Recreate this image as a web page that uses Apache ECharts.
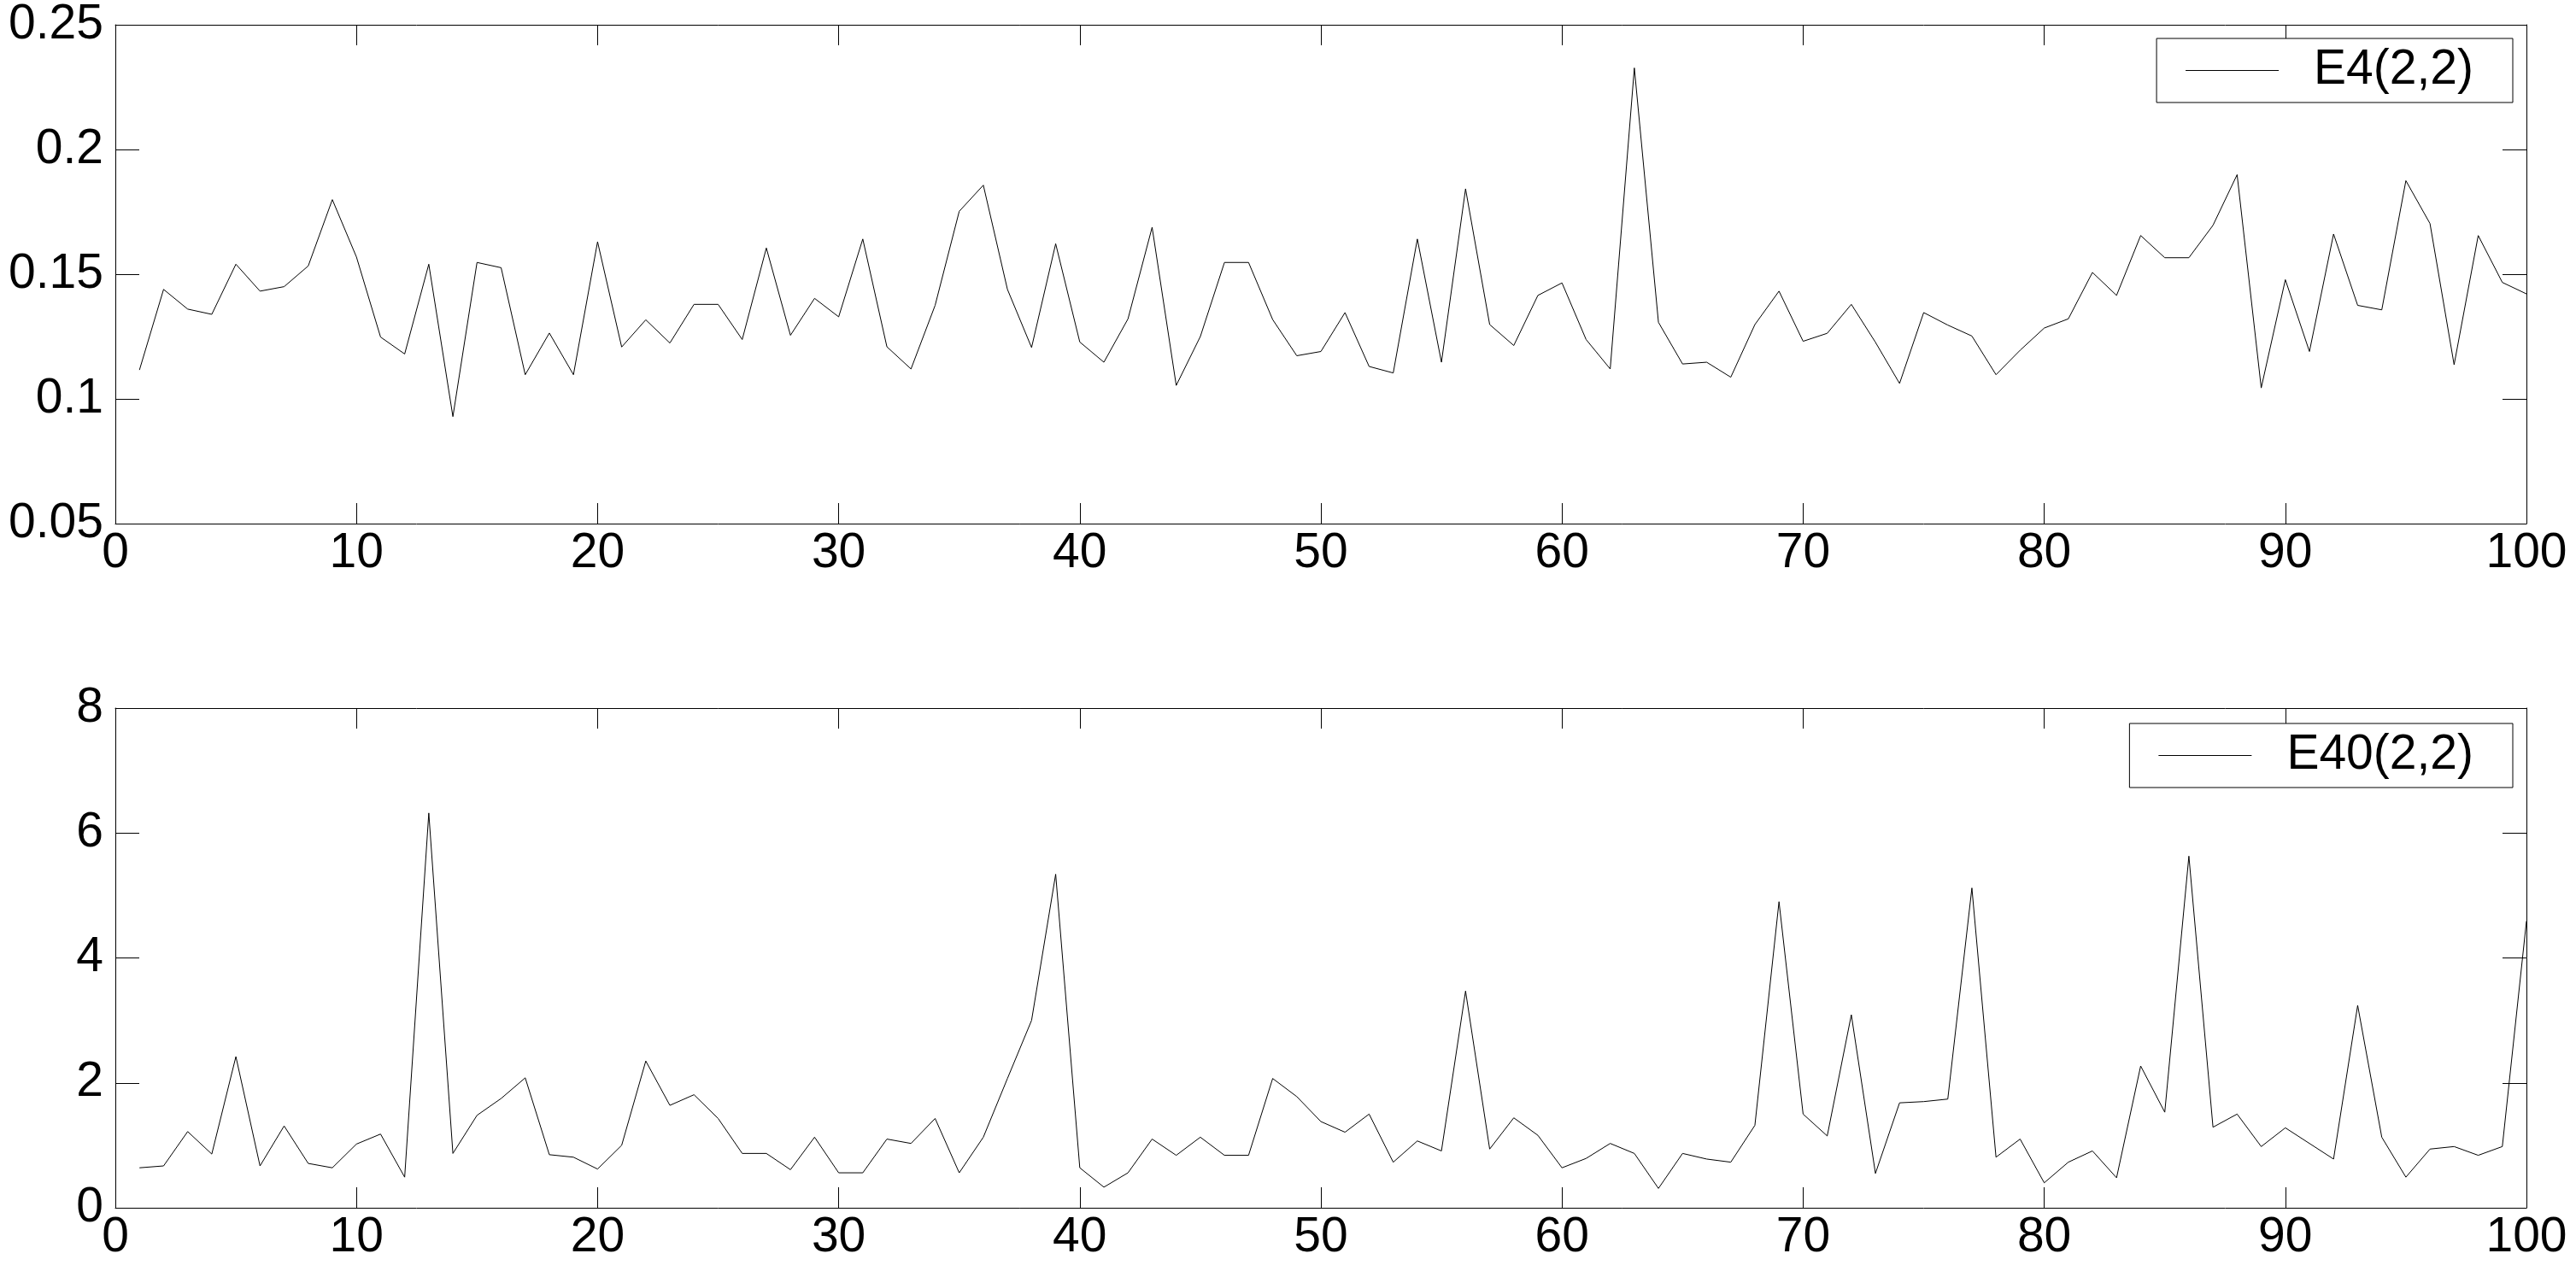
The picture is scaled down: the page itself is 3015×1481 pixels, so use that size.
<!DOCTYPE html>
<html>
<head>
<meta charset="utf-8">
<script src="https://cdn.jsdelivr.net/npm/echarts@6/dist/echarts.min.js"></script>
<style>
html,body{margin:0;padding:0;background:#fff;}
#chart{width:3015px;height:1481px;}
</style>
</head>
<body>
<div id="chart"></div>
<script>
// ---- data ----
const seriesNames = ['E4(2,2)', 'E40(2,2)'];
const xTicks = [0, 10, 20, 30, 40, 50, 60, 70, 80, 90, 100];
const e4Values = [
  0.1116,0.1439,0.1360,0.1339,0.1540,0.1432,0.1450,0.1533,0.1799,0.1569,
  0.1248,0.1180,0.1540,0.0929,0.1547,0.1526,0.1097,0.1264,0.1097,0.1630,
  0.1208,0.1317,0.1224,0.1379,0.1379,0.1238,0.1605,0.1255,0.1403,0.1329,
  0.1641,0.1209,0.1120,0.1375,0.1752,0.1857,0.1439,0.1206,0.1622,0.1228,
  0.1147,0.1321,0.1688,0.1054,0.1250,0.1547,0.1547,0.1318,0.1173,0.1190,
  0.1346,0.1130,0.1104,0.1641,0.1147,0.1842,0.1298,0.1214,0.1415,0.1465,
  0.1238,0.1120,0.2327,0.1307,0.1140,0.1147,0.1087,0.1298,0.1432,0.1231,
  0.1263,0.1379,0.1227,0.1062,0.1346,0.1296,0.1252,0.1097,0.1195,0.1284,
  0.1321,0.1507,0.1415,0.1655,0.1566,0.1566,0.1696,0.1899,0.1044,0.1478,
  0.1190,0.1661,0.1375,0.1357,0.1875,0.1703,0.1137,0.1655,0.1467,0.1421
];
const e40Values = [
  0.64,0.67,1.22,0.86,2.42,0.67,1.31,0.71,0.64,1.02,
  1.18,0.49,6.32,0.87,1.48,1.75,2.08,0.85,0.81,0.62,
  1.00,2.35,1.64,1.81,1.43,0.87,0.87,0.61,1.13,0.56,
  0.56,1.10,1.03,1.43,0.56,1.13,2.07,3.00,5.34,0.64,
  0.33,0.56,1.10,0.84,1.13,0.84,0.84,2.07,1.78,1.38,
  1.21,1.50,0.73,1.07,0.91,3.47,0.94,1.44,1.16,0.64,
  0.79,1.03,0.87,0.31,0.87,0.78,0.73,1.32,4.90,1.50,
  1.15,3.09,0.55,1.68,1.70,1.74,5.12,0.81,1.10,0.40,
  0.73,0.91,0.48,2.27,1.53,5.63,1.29,1.50,0.98,1.28,
  1.03,0.78,3.24,1.13,0.49,0.94,0.98,0.84,0.98,4.59
];
const e4Axis = {min: 0.05, max: 0.25, interval: 0.05};
const e40Axis = {min: 0, max: 8, interval: 2};

// ---- chart ----
const FONT = 'Liberation Sans, Arial, Helvetica, sans-serif';
const FS = 57;
const toPairs = arr => arr.map((v, i) => [i + 1, v]);

function xAxisDef(gridIndex, position, showLabel) {
  return {
    type: 'value', gridIndex, position,
    min: xTicks[0], max: xTicks[xTicks.length - 1], interval: 10,
    axisLine: {show: true, onZero: false, lineStyle: {color: '#000', width: 1}},
    axisTick: {show: true, inside: true, length: 24, lineStyle: {color: '#000', width: 1}},
    axisLabel: {show: showLabel, color: '#000', fontFamily: FONT, fontSize: FS, margin: 7},
    splitLine: {show: false}
  };
}
function yAxisDef(gridIndex, position, showLabel, rng) {
  return {
    type: 'value', gridIndex, position,
    min: rng.min, max: rng.max, interval: rng.interval,
    axisLine: {show: true, onZero: false, lineStyle: {color: '#000', width: 1}},
    axisTick: {show: true, inside: true, length: 28, lineStyle: {color: '#000', width: 1}},
    axisLabel: {show: showLabel, color: '#000', fontFamily: FONT, fontSize: FS, margin: 14},
    splitLine: {show: false}
  };
}
function legendDef(name, top) {
  return {
    data: [name], right: 74, top: top, orient: 'horizontal',
    backgroundColor: '#fff', borderColor: '#000', borderWidth: 1, borderRadius: 0,
    padding: [9, 46, 9, 34],
    icon: 'rect', itemWidth: 109, itemHeight: 1,
    textStyle: {color: '#000', fontFamily: FONT, fontSize: FS, padding: [0, 0, 0, 36]},
    selectedMode: false
  };
}

const chart = echarts.init(document.getElementById('chart'), null, {renderer: 'canvas'});
chart.setOption({
  animation: false,
  backgroundColor: '#fff',
  grid: [
    {left: 135, right: 58, top: 29, height: 584},
    {left: 135, right: 58, top: 829, height: 585}
  ],
  xAxis: [
    xAxisDef(0, 'bottom', true), xAxisDef(0, 'top', false),
    xAxisDef(1, 'bottom', true), xAxisDef(1, 'top', false)
  ],
  yAxis: [
    yAxisDef(0, 'left', true, e4Axis), yAxisDef(0, 'right', false, e4Axis),
    yAxisDef(1, 'left', true, e40Axis), yAxisDef(1, 'right', false, e40Axis)
  ],
  legend: [legendDef(seriesNames[0], 45), legendDef(seriesNames[1], 847)],
  series: [
    {name: seriesNames[0], type: 'line', xAxisIndex: 0, yAxisIndex: 0,
     data: toPairs(e4Values), symbol: 'none', color: '#000',
     lineStyle: {color: '#000', width: 1}},
    {name: seriesNames[1], type: 'line', xAxisIndex: 2, yAxisIndex: 2,
     data: toPairs(e40Values), symbol: 'none', color: '#000',
     lineStyle: {color: '#000', width: 1}}
  ]
});
</script>
</body>
</html>
